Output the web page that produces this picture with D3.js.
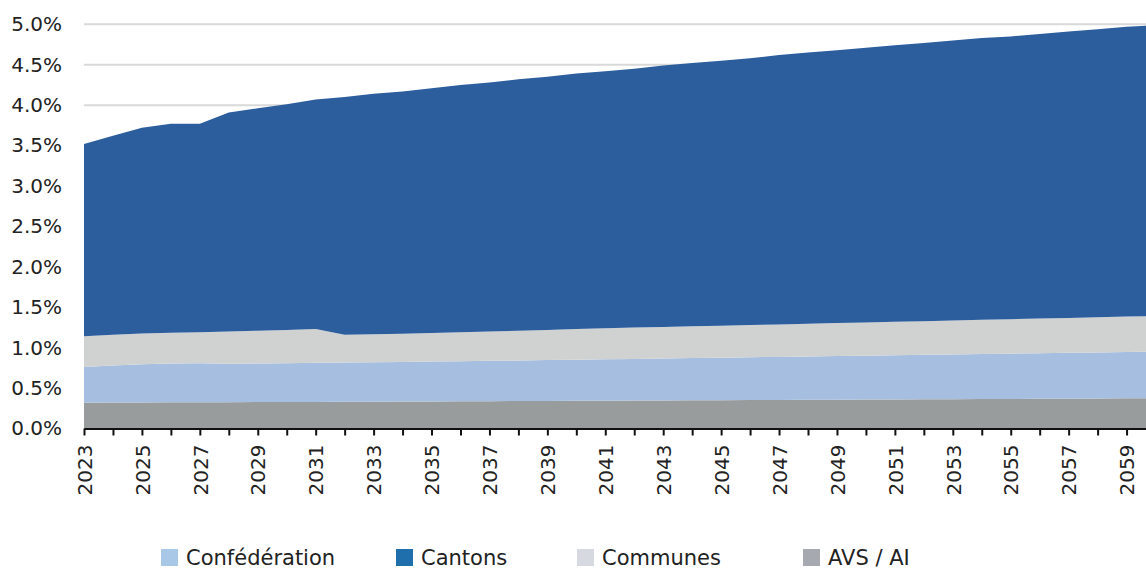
<!DOCTYPE html>
<html>
<head>
<meta charset="utf-8">
<script src="https://cdn.jsdelivr.net/npm/d3@7"></script>
<style>
  html, body { margin: 0; padding: 0; background: #fff; }
  svg { display: block; font-family: "DejaVu Sans", sans-serif; }
</style>
</head>
<body>
<div id="chart"></div>
<script>
const years = d3.range(2023, 2061);

// values in % of GDP
const avsAi = [0.320, 0.322, 0.323, 0.324, 0.325, 0.326, 0.327, 0.328, 0.329, 0.331, 0.332, 0.334, 0.335, 0.337, 0.338, 0.340, 0.341, 0.343, 0.344, 0.346, 0.347, 0.349, 0.350, 0.352, 0.353, 0.355, 0.356, 0.358, 0.359, 0.361, 0.362, 0.364, 0.366, 0.367, 0.369, 0.371, 0.373, 0.375];
const confederation = [0.442, 0.458, 0.472, 0.481, 0.483, 0.474, 0.478, 0.480, 0.483, 0.484, 0.488, 0.490, 0.493, 0.495, 0.499, 0.501, 0.505, 0.508, 0.512, 0.515, 0.519, 0.522, 0.526, 0.529, 0.533, 0.536, 0.540, 0.543, 0.547, 0.550, 0.554, 0.557, 0.560, 0.564, 0.567, 0.570, 0.573, 0.575];
const communes = [0.380, 0.380, 0.381, 0.380, 0.382, 0.400, 0.405, 0.412, 0.418, 0.345, 0.345, 0.348, 0.352, 0.358, 0.363, 0.369, 0.374, 0.379, 0.384, 0.387, 0.390, 0.393, 0.396, 0.399, 0.402, 0.405, 0.408, 0.411, 0.414, 0.417, 0.420, 0.423, 0.426, 0.429, 0.432, 0.435, 0.438, 0.440];
const cantons = [2.378, 2.460, 2.544, 2.585, 2.580, 2.710, 2.750, 2.790, 2.840, 2.940, 2.975, 2.998, 3.030, 3.060, 3.080, 3.110, 3.130, 3.160, 3.180, 3.202, 3.234, 3.256, 3.278, 3.300, 3.332, 3.354, 3.376, 3.398, 3.420, 3.442, 3.464, 3.486, 3.498, 3.520, 3.542, 3.564, 3.586, 3.600];

const yTicks = [0, 0.5, 1, 1.5, 2, 2.5, 3, 3.5, 4, 4.5, 5];

// stack order bottom -> top
const series = [
  { name: "AVS / AI", data: avsAi, color: "#999c9c" },
  { name: "Confédération", data: confederation, color: "#a6bfe0" },
  { name: "Communes", data: communes, color: "#d0d2d1" },
  { name: "Cantons", data: cantons, color: "#2c5e9e" },
];

const legendItems = [
  { name: "Confédération", color: "#a9c8e8", x: 161 },
  { name: "Cantons", color: "#1f6fad", x: 396 },
  { name: "Communes", color: "#d6d9e0", x: 577 },
  { name: "AVS / AI", color: "#a7a9b0", x: 803 },
];

const width = 1146;
const height = 571;
const marginLeft = 84;
const yearStep = 28.96;
const yBottom = 428.5;
const yTop = 24.3;

const x = d3.scaleLinear()
  .domain([years[0], years[years.length - 1]])
  .range([marginLeft, marginLeft + yearStep * (years.length - 1)]);

const y = d3.scaleLinear().domain([0, 5]).range([yBottom, yTop]);

const rows = years.map((yr, i) => {
  const row = { year: yr };
  series.forEach((s) => (row[s.name] = s.data[i]));
  return row;
});

const stacked = d3.stack().keys(series.map((s) => s.name))(rows);

const svg = d3.select("#chart").append("svg")
  .attr("width", width)
  .attr("height", height)
  .attr("viewBox", [0, 0, width, height]);

// gridlines
svg.append("g")
  .selectAll("line")
  .data(yTicks.filter((d) => d > 0))
  .join("line")
  .attr("x1", marginLeft)
  .attr("x2", width)
  .attr("y1", (d) => y(d))
  .attr("y2", (d) => y(d))
  .attr("stroke", "#d9d9d9")
  .attr("stroke-width", 2);

// areas
const area = d3.area()
  .x((d) => x(d.data.year))
  .y0((d) => y(d[0]))
  .y1((d) => y(d[1]));

svg.append("g")
  .selectAll("path")
  .data(stacked)
  .join("path")
  .attr("fill", (d, i) => series[i].color)
  .attr("d", area);

// y axis
svg.append("g")
  .attr("transform", `translate(${marginLeft},0)`)
  .call(d3.axisLeft(y).tickValues(yTicks).tickSize(0).tickPadding(22).tickFormat((d) => d.toFixed(1) + "%"))
  .call((g) => g.select(".domain").remove())
  .call((g) => g.selectAll("text").attr("font-size", 20).attr("fill", "#222").attr("font-family", "DejaVu Sans"));

// x axis
svg.append("g")
  .attr("transform", `translate(0,${yBottom})`)
  .call(d3.axisBottom(x).tickValues(years.slice(0, -1)).tickSize(7).tickSizeOuter(0)
    .tickFormat((d) => (d % 2 === 1 ? String(d) : "")))
  .call((g) => g.select(".domain").attr("stroke", "#111").attr("stroke-width", 2))
  .call((g) => g.selectAll(".tick line").attr("stroke", "#111").attr("stroke-width", 2))
  .call((g) => g.selectAll(".tick text")
    .attr("font-size", 20)
    .attr("fill", "#222")
    .attr("font-family", "DejaVu Sans")
    .attr("text-anchor", "end")
    .attr("y", 0)
    .attr("dy", "0.36em")
    .attr("transform", "translate(0,16)rotate(-90)"));

// legend
const legend = svg.append("g")
  .selectAll("g")
  .data(legendItems)
  .join("g")
  .attr("transform", (d) => `translate(${d.x},549)`);

legend.append("rect")
  .attr("width", 17)
  .attr("height", 17)
  .attr("fill", (d) => d.color);

legend.append("text")
  .attr("x", 25)
  .attr("y", 16)
  .attr("font-size", 21)
  .attr("fill", "#222")
  .text((d) => d.name);
</script>
</body>
</html>
